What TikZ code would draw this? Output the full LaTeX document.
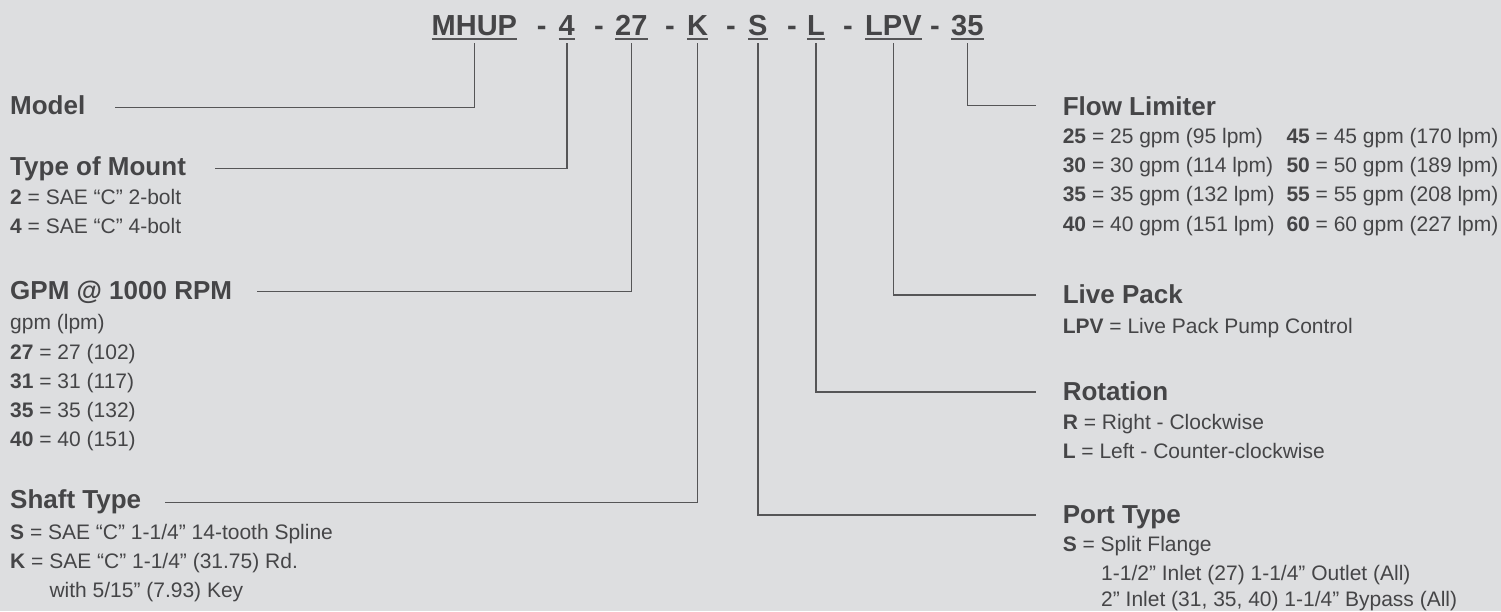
\documentclass[tikz,border=0pt]{standalone}
\usepackage{fontspec}
\setmainfont{Liberation Sans}
\definecolor{bg}{HTML}{DDDEE0}
\definecolor{txt}{HTML}{454547}
\definecolor{ln}{HTML}{555557}
\begin{document}
\begin{tikzpicture}[x=1pt,y=-1pt,
  title/.style={anchor=base west, inner sep=0, text depth=0pt, font=\fontsize{29}{29}\selectfont\bfseries, text=txt},
  head/.style={anchor=base west, inner sep=0, font=\fontsize{26}{26}\selectfont\bfseries, text=txt},
  body/.style={anchor=base west, inner sep=0, font=\fontsize{21}{21}\selectfont, text=txt},
  conn/.style={draw=ln, line width=1.5pt},
  uline/.style={draw=ln, line width=2pt}]
\useasboundingbox (0,0) rectangle (1501,611);
\fill[bg] (0,0) rectangle (1501,611);
% title
\node[title] (mhup) at (431.5,35) {MHUP};
\node[title] (d1) at (536.7,35) {-};
\node[title] (c4) at (558.5,35) {4};
\node[title] (d2) at (594,35) {-};
\node[title] (c27) at (615,35) {27};
\node[title] (d3) at (665,35) {-};
\node[title] (cK) at (687,35) {K};
\node[title] (d4) at (726,35) {-};
\node[title] (cS) at (748,35) {S};
\node[title] (d5) at (787,35) {-};
\node[title] (cL) at (807,35) {L};
\node[title] (d6) at (843,35) {-};
\node[title] (cLPV) at (865,35) {LPV};
\node[title] (d7) at (930,35) {-};
\node[title] (c35) at (951,35) {35};
\foreach \n in {mhup,c4,c27,cK,cS,cL,cLPV,c35}
  \draw[uline] ([yshift=-3.5pt]\n.south west) -- ([yshift=-3.5pt]\n.south east);
% left column
\node[head] (model) at (10,114.5) {Model};
\node[head] (mount) at (10,175.5) {Type of Mount};
\node[body] (m2) at (10,204) {\textbf{2} = SAE “C” 2-bolt};
\node[body] (m4) at (10,233.5) {\textbf{4} = SAE “C” 4-bolt};
\node[head] (gpm) at (10,299.8) {GPM @ 1000 RPM};
\node[body] (g0) at (10,329.5) {gpm (lpm)};
\node[body] (g27) at (10,359.3) {\textbf{27} = 27 (102)};
\node[body] (g31) at (10,388.3) {\textbf{31} = 31 (117)};
\node[body] (g35) at (10,417.3) {\textbf{35} = 35 (132)};
\node[body] (g40) at (10,446.5) {\textbf{40} = 40 (151)};
\node[head] (shaft) at (10,508.8) {Shaft Type};
\node[body] (sS) at (10,539.3) {\textbf{S} = SAE “C” 1-1/4” 14-tooth Spline};
\node[body] (sK) at (10,568.3) {\textbf{K} = SAE “C” 1-1/4” (31.75) Rd.};
\node[body] (sW) at (49.3,597.3) {with 5/15” (7.93) Key};
% right column
\node[head] (flow) at (1062.6,115.5) {Flow Limiter};
\node[body] (f25) at (1062.6,143.3) {\textbf{25} = 25 gpm (95 lpm)};
\node[body] (f30) at (1062.6,172.3) {\textbf{30} = 30 gpm (114 lpm)};
\node[body] (f35) at (1062.6,201.7) {\textbf{35} = 35 gpm (132 lpm)};
\node[body] (f40) at (1062.6,231) {\textbf{40} = 40 gpm (151 lpm)};
\node[body] (f45) at (1286.3,143.3) {\textbf{45} = 45 gpm (170 lpm)};
\node[body] (f50) at (1286.3,172.3) {\textbf{50} = 50 gpm (189 lpm)};
\node[body] (f55) at (1286.3,201.7) {\textbf{55} = 55 gpm (208 lpm)};
\node[body] (f60) at (1286.3,231) {\textbf{60} = 60 gpm (227 lpm)};
\node[head] (live) at (1062.6,303.8) {Live Pack};
\node[body] (lpv) at (1062.6,333.3) {\textbf{LPV} = Live Pack Pump Control};
\node[head] (rot) at (1062.6,400.5) {Rotation};
\node[body] (rR) at (1062.6,429.3) {\textbf{R} = Right - Clockwise};
\node[body] (rL) at (1062.6,458.3) {\textbf{L} = Left - Counter-clockwise};
\node[head] (port) at (1062.6,523.8) {Port Type};
\node[body] (pS) at (1062.6,551.7) {\textbf{S} = Split Flange};
\node[body] (p1) at (1101,580.5) {1-1/2” Inlet (27) 1-1/4” Outlet (All)};
\node[body] (p2) at (1101,606) {2” Inlet (31, 35, 40) 1-1/4” Bypass (All)};
% connector ends
\coordinate (eModel) at (115,107.7);
\coordinate (eMount) at (215,168.3);
\coordinate (eGpm) at (257,291.7);
\coordinate (eShaft) at (165,502.3);
\coordinate (eFlow) at (1036,105.7);
\coordinate (eLive) at (1036,295);
\coordinate (eRot) at (1036,392);
\coordinate (ePort) at (1036,515);
% connectors
\draw[conn] (mhup.south |- 0,43) |- (eModel);
\draw[conn] (c4.south |- 0,43) |- (eMount);
\draw[conn] (c27.south |- 0,43) |- (eGpm);
\draw[conn] (cK.south |- 0,43) |- (eShaft);
\draw[conn] (cS.south |- 0,43) |- (ePort);
\draw[conn] (cL.south |- 0,43) |- (eRot);
\draw[conn] (cLPV.south |- 0,43) |- (eLive);
\draw[conn] (c35.south |- 0,43) |- (eFlow);
\end{tikzpicture}
\end{document}
